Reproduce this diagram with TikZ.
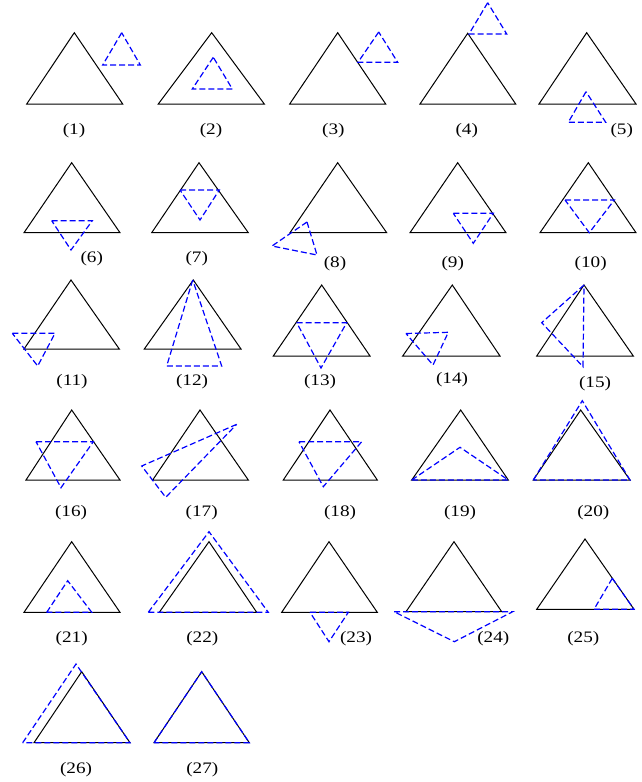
\documentclass[tikz,border=0pt]{standalone}
\usepackage{fontspec}
\setmainfont{Liberation Serif}
\begin{document}
\begin{tikzpicture}[x=1pt,y=-1pt,line join=miter,
  blk/.style={line width=1pt},
  dsh/.style={blue,line width=1.2pt,dash pattern=on 6pt off 3pt},
  lab/.style={font=\fontsize{16}{16}\selectfont,xscale=1.2,inner sep=0pt}]
\useasboundingbox (0,0) rectangle (641,782);
% black triangle / dashed blue triangle
\foreach \a/\b/\c in {{26.7,104}/{74.3,32.7}/{122.7,104},{158.3,104}/{211.7,32.7}/{264.3,104},
  {289.7,104}/{337.7,32.7}/{385.7,104},{420,104}/{467.7,33.3}/{515.7,104},{539,104}/{586.7,32.7}/{636,104},
  {24,232.7}/{71.7,162.7}/{120,232.7},{151.7,232.7}/{199,162.7}/{248.3,232.7},{290,232.7}/{337.7,162.7}/{386.7,232.7},
  {410,232.7}/{457.7,162.7}/{506,232.7},{540,232.7}/{588.3,162.7}/{636,232.7},
  {24,349}/{71,280}/{119.3,349},{144.3,349}/{193.3,280}/{241,349},{273.3,356}/{321.7,285}/{370,356},
  {402.7,356}/{452.3,285}/{500,356},{536.7,356}/{584,285}/{633.3,356},
  {26,480}/{71.7,410}/{120,480},{152.7,480}/{200,410}/{248.3,480},{283.3,480}/{330,410}/{377.3,480},
  {411.7,480}/{460.7,410}/{508.3,480},{533.3,480}/{580.7,410}/{630,480},
  {24,612.3}/{71.7,541.7}/{120,612.3},{159.3,612.3}/{209,541.7}/{256.7,612.3},{281.7,612.3}/{329,541.7}/{377.3,612.3},
  {406,611.7}/{454,541.7}/{501.7,611.7},{536.7,609.3}/{585,539}/{634,609.3},
  {34,742.7}/{81.7,671.7}/{130,742.7},{154,742.7}/{201.7,671.7}/{249.3,742.7}}
  \draw[blk] (\a) -- (\b) -- (\c) -- cycle;
\foreach \a/\b/\c in {{121.7,32.7}/{102.7,65}/{140.3,65},{213.3,57.3}/{192.3,89}/{232.3,89},
  {378.7,32}/{358,62.3}/{397.7,62.3},{487.7,2.7}/{469,34}/{506.7,34},{586,91.7}/{568.3,122.3}/{605.7,122.3},
  {51.7,220.7}/{92.3,220.7}/{71,250},{180,190}/{219.3,190}/{200,220},{307,222}/{317,255}/{272,246},
  {453.3,213.3}/{493.3,213.3}/{473.3,243.3},{565,200}/{614.3,200}/{589.3,232.7},
  {12.3,333.3}/{55,333.3}/{37.7,366},{192.7,280}/{166.7,366}/{221.7,366},{296.7,322.7}/{346.7,322.7}/{321,368},
  {406,333.5}/{448.3,332.3}/{433,365},{584,285}/{541.7,322.7}/{583,366.7},
  {36,441.7}/{93.3,441.7}/{61,487.7},{236.7,424.3}/{141.7,466}/{165.7,497.3},{299,441.7}/{361.7,441.7}/{323.3,486.7},
  {411.7,480}/{460,447.3}/{508.3,480},{533.3,480}/{582.3,400.7}/{630,480},
  {46.7,612.3}/{67.7,580.7}/{91.7,612.3},{148.3,612.3}/{209,531.7}/{268.3,612.3},{310,612.3}/{348.3,612.3}/{329,641.7},
  {394,611.7}/{512.7,611.7}/{454.3,641.7},{612.3,578.3}/{594,609.3}/{634,609.3},
  {22.7,742.7}/{76,664}/{130,742.7},{154,742.7}/{201.7,671.7}/{249.3,742.7}}
  \draw[dsh] (\a) -- (\b) -- (\c) -- cycle;
% labels
\foreach \n/\x/\y in {1/74/131,2/211/131,3/333.3/131,4/466.7/131,5/621.7/131,
  6/91.7/259,7/196.7/258.3,8/335/263.3,9/452.7/263.3,10/590.7/263.3,
  11/72/381.7,12/192/381.7,13/320/381.7,14/452/380,15/595/383.3,
  16/71/512.3,17/201.7/512.3,18/340/512.3,19/460/512.3,20/593.3/512.3,
  21/71.7/639,22/202.3/639,23/356/638.3,24/493.3/638.3,25/583.3/638.3,
  26/76/770,27/202.3/770}
  \node[lab] (l\n) at (\x,\y) {(\n)};
\end{tikzpicture}
\end{document}
